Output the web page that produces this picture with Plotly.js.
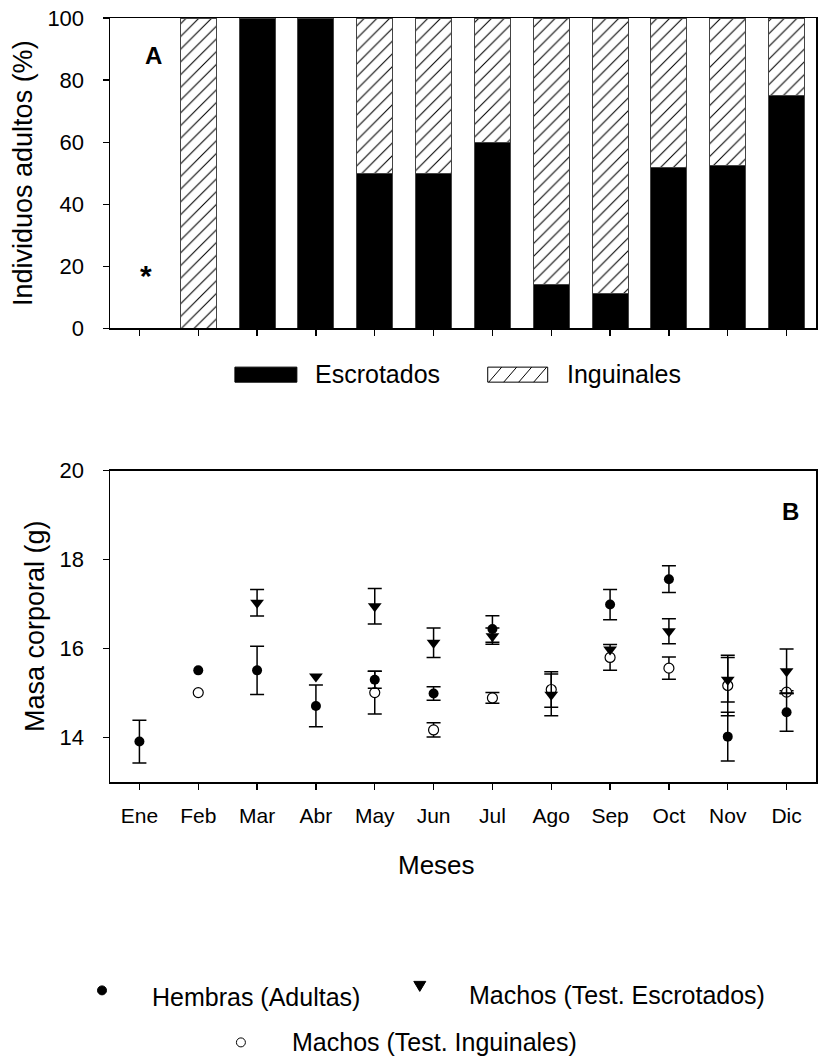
<!DOCTYPE html>
<html><head><meta charset="utf-8">
<script src="https://cdn.plot.ly/plotly-3.0.1.min.js"></script>
<style>html,body{margin:0;padding:0;background:#fff}</style>
</head><body>
<div id="chart" style="width:827px;height:1061px"></div>
<script>
// ---- data ----
const months = ['Ene','Feb','Mar','Abr','May','Jun','Jul','Ago','Sep','Oct','Nov','Dic'];
const pctEscrotados = [null, 0, 100, 100, 50, 50, 60, 14.3, 11.1, 51.7, 52.4, 75];
const pctInguinales = [null, 100, 0, 0, 50, 50, 40, 85.7, 88.9, 48.3, 47.6, 25];
const hembras      = [13.91, 15.51, 15.51, 14.71, 15.30, 14.99, 16.44, null, 16.99, 17.56, 14.02, 14.57];
const hembrasErr   = [0.48, NaN, 0.54, 0.47, 0.19, 0.15, 0.30, NaN, 0.34, 0.30, 0.55, 0.43];
const machosEsc    = [null, null, 17.03, 15.37, 16.95, 16.13, 16.28, 14.96, 15.98, 16.39, 15.30, 15.49];
const machosEscErr = [NaN, NaN, 0.30, NaN, 0.40, 0.33, 0.18, 0.47, NaN, 0.28, 0.50, 0.50];
const machosIng    = [null, 15.01, null, null, 15.01, 14.17, 14.89, 15.08, 15.80, 15.56, 15.17, 15.02];
const machosIngErr = [NaN, NaN, NaN, NaN, 0.48, 0.16, 0.12, 0.40, 0.29, 0.25, 0.68, 0.03];

// ---- geometry helpers (pixel -> paper) ----
const W = 827, H = 1061, ML = 110, MR = 10.5, MT = 18, MB = 279.3;
const PW = W - ML - MR, PH = H - MT - MB;
const px = v => (v - ML) / PW;
const py = v => (H - MB - v) / PH;

const FONT = 'Liberation Sans, Arial, sans-serif';
const errStyle = arr => ({type:'data', array: arr, visible:true, color:'#000', thickness:1.5, width:7});

const traces = [
  {type:'bar', x: months, y: pctEscrotados, name:'Escrotados', xaxis:'x', yaxis:'y',
   marker:{color:'#000', line:{color:'#444', width:1}}, showlegend:false},
  {type:'bar', x: months, y: pctInguinales, name:'Inguinales', xaxis:'x', yaxis:'y',
   marker:{color:'#fff', line:{color:'#444', width:1},
     pattern:{shape:'/', fgcolor:'#000', bgcolor:'#fff', size:9, solidity:0.12}}, showlegend:false},
  {type:'scatter', mode:'markers', x: months, y: machosIng, name:'Machos (Test. Inguinales)',
   xaxis:'x2', yaxis:'y2', error_y: errStyle(machosIngErr),
   marker:{symbol:'circle', size:10, color:'#fff', line:{color:'#000', width:1.2}}, showlegend:false},
  {type:'scatter', mode:'markers', x: months, y: hembras, name:'Hembras (Adultas)',
   xaxis:'x2', yaxis:'y2', error_y: errStyle(hembrasErr),
   marker:{symbol:'circle', size:10, color:'#000'}, showlegend:false},
  {type:'scatter', mode:'markers', x: months, y: machosEsc, name:'Machos (Test. Escrotados)',
   xaxis:'x2', yaxis:'y2', error_y: errStyle(machosEscErr),
   marker:{symbol:'triangle-down', size:12, color:'#000'}, showlegend:false}
];

const axisCommon = {showline:true, linecolor:'#000', linewidth:1.5, mirror:true,
  ticks:'outside', ticklen:6, tickwidth:1.2, tickcolor:'#000', showgrid:false, zeroline:false,
  tickfont:{family:FONT, size:22, color:'#000'}};

const layout = {
  width: W, height: H, paper_bgcolor:'#fff', plot_bgcolor:'#fff',
  margin:{l:ML, r:MR, t:MT, b:MB, pad:0},
  font:{family:FONT, color:'#000'},
  barmode:'stack', bargap:0.39,
  xaxis: Object.assign({}, axisCommon, {domain:[0,1], anchor:'y', type:'category',
    range:[-0.5, 11.5], showticklabels:false}),
  yaxis: Object.assign({}, axisCommon, {domain:[1 - 310.3/PH, 1], anchor:'x', range:[0,100],
    tick0:0, dtick:20, ticklabelstandoff:14,
    title:{text:'Individuos adultos (%)', font:{family:FONT, size:27, color:'#000'}, standoff:7}}),
  xaxis2: Object.assign({}, axisCommon, {domain:[0,1], anchor:'y2', type:'category',
    range:[-0.5, 11.5], ticklabelstandoff:8, tickfont:{family:FONT, size:21, color:'#000'}}),
  yaxis2: Object.assign({}, axisCommon, {domain:[0, py(470.5)], anchor:'x2', range:[13,20],
    tick0:14, dtick:2, ticklabelstandoff:14,
    title:{text:'Masa corporal (g)', font:{family:FONT, size:27, color:'#000'}, standoff:7}}),
  annotations: [
    {xref:'paper', yref:'paper', x:px(154), y:py(55), text:'<b>A</b>', showarrow:false,
     font:{family:FONT, size:24, color:'#000'}, xanchor:'center', yanchor:'middle'},
    {xref:'x', yref:'y', x:'Ene', y:17, text:'<b>*</b>', showarrow:false,
     font:{family:FONT, size:30, color:'#000'}, xanchor:'center', yanchor:'middle', xshift:7},
    {xref:'paper', yref:'paper', x:px(791), y:py(511), text:'<b>B</b>', showarrow:false,
     font:{family:FONT, size:24, color:'#000'}, xanchor:'center', yanchor:'middle'},
    {xref:'paper', yref:'paper', x:px(313), y:py(374), text:'Escrotados', showarrow:false,
     font:{family:FONT, size:25, color:'#000'}, xanchor:'left', yanchor:'middle'},
    {xref:'paper', yref:'paper', x:px(565), y:py(374), text:'Inguinales', showarrow:false,
     font:{family:FONT, size:25, color:'#000'}, xanchor:'left', yanchor:'middle'},
    {xref:'paper', yref:'paper', x:px(437), y:py(865), text:'Meses', showarrow:false,
     font:{family:FONT, size:26, color:'#000'}, xanchor:'center', yanchor:'middle'},
    {xref:'paper', yref:'paper', x:px(150), y:py(997), text:'Hembras (Adultas)', showarrow:false,
     font:{family:FONT, size:25, color:'#000'}, xanchor:'left', yanchor:'middle'},
    {xref:'paper', yref:'paper', x:px(467), y:py(995), text:'Machos (Test. Escrotados)', showarrow:false,
     font:{family:FONT, size:25, color:'#000'}, xanchor:'left', yanchor:'middle'},
    {xref:'paper', yref:'paper', x:px(290), y:py(1042), text:'Machos (Test. Inguinales)', showarrow:false,
     font:{family:FONT, size:25, color:'#000'}, xanchor:'left', yanchor:'middle'}
  ],
  shapes: []
};

// legend swatches for panel A
layout.shapes.push({type:'rect', xref:'paper', yref:'paper', x0:px(235), x1:px(297), y0:py(382), y1:py(367),
  fillcolor:'#000', line:{color:'#000', width:1}});
layout.shapes.push({type:'rect', xref:'paper', yref:'paper', x0:px(488), x1:px(548), y0:py(382), y1:py(367),
  fillcolor:'#fff', line:{color:'#000', width:1}});
[489, 504, 519, 534].forEach(s => {
  layout.shapes.push({type:'line', xref:'paper', yref:'paper', x0:px(s), y0:py(382), x1:px(s+13), y1:py(367),
    line:{color:'#000', width:1}});
});
// legend symbols for panel B
layout.shapes.push({type:'circle', xref:'paper', yref:'paper', x0:px(97.5), x1:px(106.5), y0:py(994.5), y1:py(985.5),
  fillcolor:'#000', line:{color:'#000', width:1}});
layout.shapes.push({type:'path', xref:'paper', yref:'paper',
  path:`M${px(414)},${py(981)} L${px(426)},${py(981)} L${px(420)},${py(991)} Z`,
  fillcolor:'#000', line:{color:'#000', width:1}});
layout.shapes.push({type:'circle', xref:'paper', yref:'paper', x0:px(236.5), x1:px(245.5), y0:py(1046.5), y1:py(1037.5),
  fillcolor:'#fff', line:{color:'#000', width:1}});

Plotly.newPlot('chart', traces, layout, {displayModeBar:false, staticPlot:true});
</script>
</body></html>
